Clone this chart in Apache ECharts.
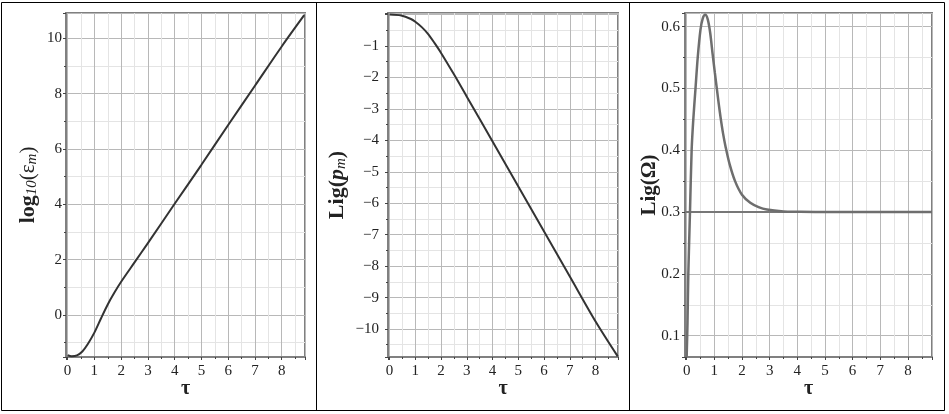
<!DOCTYPE html>
<html>
<head>
<meta charset="utf-8">
<script src="https://cdn.jsdelivr.net/npm/echarts@6/dist/echarts.min.js"></script>
<style>
  html, body { margin: 0; padding: 0; background: #fff; }
  #main { width: 949px; height: 414px; }
</style>
</head>
<body>
<div id="main"></div>
<script>
// values
const tauEps = [0, 0.15, 0.35, 0.55, 0.75, 1.0, 1.25, 1.5, 1.75, 2, 2.5, 3, 4, 5, 6, 7, 8, 8.84];
const logEps = [-1.45, -1.49, -1.46, -1.32, -1.06, -0.64, -0.12, 0.38, 0.81, 1.2, 1.9, 2.6, 4.02, 5.43, 6.87, 8.29, 9.71, 10.84];

const tauP = [0, 0.45, 0.83, 1, 1.25, 1.5, 1.75, 2, 2.5, 3, 4, 5, 6, 7, 8, 8.86];
const ligP = [0, -0.03, -0.14, -0.23, -0.4, -0.62, -0.91, -1.22, -1.9, -2.61, -4.04, -5.47, -6.9, -8.33, -9.76, -10.87];

const tauOm = [0, 0.03, 0.06, 0.12, 0.18, 0.24, 0.32, 0.4, 0.5, 0.58, 0.67, 0.76, 0.85, 0.94, 1.02, 1.09, 1.16, 1.23, 1.32, 1.41, 1.55, 1.75, 2.0, 2.3, 2.6, 2.9, 3.5, 4.0, 5, 8.87];
const ligOm = [0.065, 0.12, 0.2, 0.3, 0.4, 0.45, 0.5, 0.55, 0.595, 0.613, 0.619, 0.612, 0.59, 0.555, 0.525, 0.5, 0.475, 0.452, 0.426, 0.405, 0.378, 0.35, 0.328, 0.315, 0.308, 0.304, 0.301, 0.3005, 0.3, 0.3];
const omLevel = 0.3;

const serif = '"Liberation Serif", "DejaVu Serif", serif';

function pairs(xs, ys) {
  return xs.map((x, i) => [x, ys[i]]);
}

function near(v, step) {
  return Math.abs(v / step - Math.round(v / step)) < 1e-6;
}

function minus(s) {
  return String(s).replace('-', '\u2212');
}

// same styling for all three x axes
function xAxisFor(i) {
  return {
    type: 'value', gridIndex: i, min: -0.06, max: 8.87, splitNumber: 9,
    name: 'τ', nameLocation: 'middle', nameGap: 22, nameMoveOverlap: false,
    nameTextStyle: { fontFamily: serif, fontWeight: 'bold', fontSize: 20, color: '#222' },
    axisLine: { show: true, onZero: false, lineStyle: { color: '#808080', width: 2 } },
    axisTick: { show: true, length: 3, lineStyle: { color: '#444' } },
    minorTick: { show: true, splitNumber: 2, length: 2, lineStyle: { color: '#444' } },
    axisLabel: {
      margin: 7, fontFamily: serif, fontSize: 15, color: '#222',
      formatter: v => near(v, 1) ? String(Math.round(v)) : ''
    },
    splitLine: { show: true, lineStyle: { color: '#b8b8b8', width: 1 } },
    minorSplitLine: { show: true, lineStyle: { color: '#e4e4e4', width: 1 } }
  };
}

function yAxisFor(i, opt) {
  return Object.assign({
    type: 'value', gridIndex: i, nameLocation: 'middle', nameRotate: 90, nameMoveOverlap: false,
    axisLine: { show: true, onZero: false, lineStyle: { color: '#808080', width: 2 } },
    axisTick: { show: true, length: 3, lineStyle: { color: '#444' } },
    minorTick: { show: true, splitNumber: 2, length: 2, lineStyle: { color: '#444' } },
    splitLine: { show: true, lineStyle: { color: '#b8b8b8', width: 1 } },
    minorSplitLine: { show: true, lineStyle: { color: '#e4e4e4', width: 1 } }
  }, opt);
}

const nameRich = {
  b: { fontFamily: serif, fontWeight: 'bold', fontSize: 22, color: '#222', lineHeight: 24 },
  r: { fontFamily: serif, fontSize: 21, color: '#222', lineHeight: 24 },
  bi: { fontFamily: serif, fontWeight: 'bold', fontStyle: 'italic', fontSize: 22, color: '#222', lineHeight: 24 },
  sub: { fontFamily: serif, fontStyle: 'italic', fontSize: 15, color: '#222', lineHeight: 14, verticalAlign: 'bottom', padding: [10, 0, 0, 0] }
};

const labelBase = { fontFamily: serif, fontSize: 15, color: '#222' };

const chart = echarts.init(document.getElementById('main'));

const option = {
  animation: false,
  backgroundColor: '#fff',
  grid: [
    { left: 66, right: 644, top: 13, bottom: 57, show: true, borderColor: '#808080', borderWidth: 2 },
    { left: 388, right: 331, top: 13, bottom: 57, show: true, borderColor: '#808080', borderWidth: 2 },
    { left: 685, right: 17, top: 13, bottom: 57, show: true, borderColor: '#808080', borderWidth: 2 }
  ],
  xAxis: [xAxisFor(0), xAxisFor(1), xAxisFor(2)],
  yAxis: [
    yAxisFor(0, {
      min: -1.52, max: 10.92, splitNumber: 6,
      name: '{b|log}{sub|10}{r|(ε}{sub|m}{r|)}', nameGap: 26,
      nameTextStyle: { rich: nameRich },
      axisLabel: Object.assign({ margin: 4 }, labelBase, {
        formatter: v => near(v, 2) ? minus(Math.round(v)) : '' })
    }),
    yAxisFor(1, {
      min: -10.89, max: 0.05, splitNumber: 11,
      name: '{b|Lig(}{bi|p}{sub|m}{b|)}', nameGap: 39,
      nameTextStyle: { rich: nameRich },
      axisLabel: Object.assign({ margin: 9 }, labelBase, {
        formatter: v => (near(v, 1) && Math.round(v) !== 0) ? minus(Math.round(v)) : '' })
    }),
    yAxisFor(2, {
      min: 0.0655, max: 0.622, splitNumber: 5,
      name: 'Lig(Ω)', nameGap: 25,
      nameTextStyle: { fontFamily: serif, fontWeight: 'bold', fontSize: 21, color: '#222' },
      axisLabel: Object.assign({ margin: 5 }, labelBase, {
        formatter: v => near(v, 0.1) ? v.toFixed(1) : '' })
    })
  ],
  series: [
    {
      type: 'line', xAxisIndex: 0, yAxisIndex: 0, data: pairs(tauEps, logEps),
      smooth: 0.3, showSymbol: false,
      lineStyle: { color: '#333', width: 2 }
    },
    {
      type: 'line', xAxisIndex: 1, yAxisIndex: 1, data: pairs(tauP, ligP),
      smooth: 0.3, showSymbol: false,
      lineStyle: { color: '#333', width: 2 }
    },
    {
      type: 'line', xAxisIndex: 2, yAxisIndex: 2, data: [[-0.06, omLevel], [8.87, omLevel]],
      showSymbol: false, lineStyle: { color: '#777', width: 2 }
    },
    {
      type: 'line', xAxisIndex: 2, yAxisIndex: 2, data: pairs(tauOm, ligOm),
      smooth: 0.3, showSymbol: false,
      lineStyle: { color: '#6e6e6e', width: 2.5 }
    }
  ],
  graphic: [
    { type: 'rect', shape: { x: 1.5, y: 2.5, width: 943, height: 408 }, style: { fill: 'none', stroke: '#000', lineWidth: 1 }, silent: true },
    { type: 'line', shape: { x1: 316.5, y1: 2.5, x2: 316.5, y2: 410.5 }, style: { stroke: '#000', lineWidth: 1 }, silent: true },
    { type: 'line', shape: { x1: 629.5, y1: 2.5, x2: 629.5, y2: 410.5 }, style: { stroke: '#000', lineWidth: 1 }, silent: true }
  ]
};

chart.setOption(option);
</script>
</body>
</html>
